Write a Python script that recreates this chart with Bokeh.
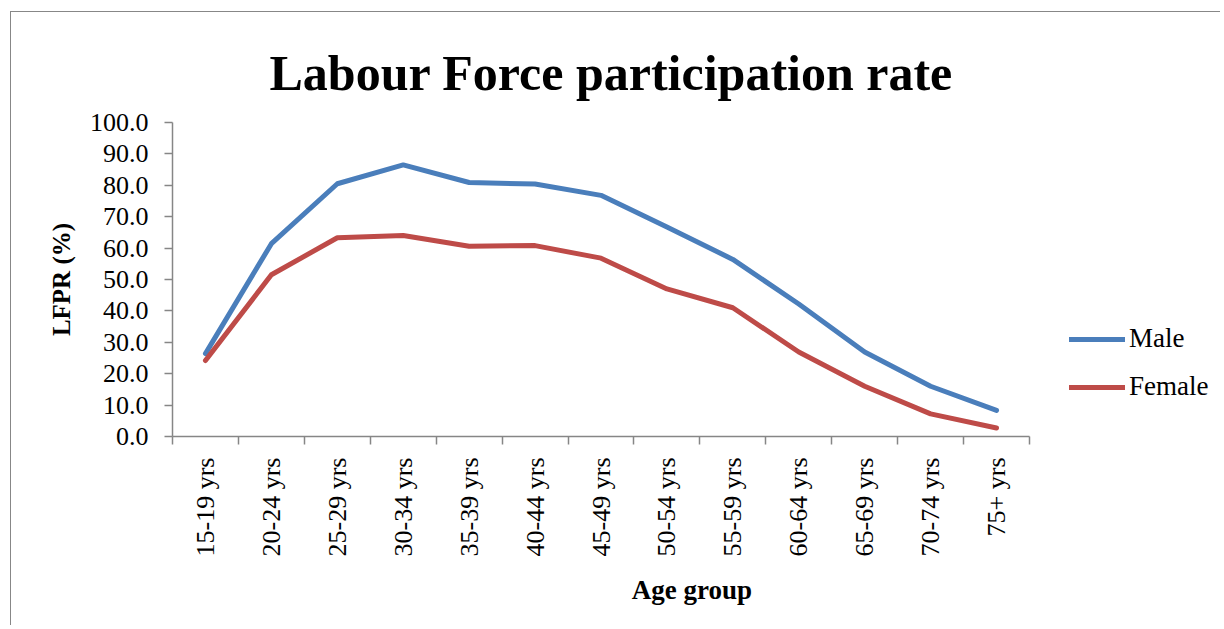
import math
from bokeh.plotting import figure
from bokeh.models import (Range1d, FixedTicker, NumeralTickFormatter, CustomJSTickFormatter,
                          Legend, LegendItem)
from bokeh.embed import file_html
from bokeh.resources import INLINE

categories = ["15-19 yrs", "20-24 yrs", "25-29 yrs", "30-34 yrs", "35-39 yrs", "40-44 yrs",
              "45-49 yrs", "50-54 yrs", "55-59 yrs", "60-64 yrs", "65-69 yrs", "70-74 yrs", "75+ yrs"]
male = [26.4, 61.4, 80.5, 86.5, 80.9, 80.4, 76.8, 66.7, 56.4, 42.2, 26.9, 16.0, 8.3]
female = [24.2, 51.5, 63.3, 64.0, 60.6, 60.8, 56.8, 47.0, 41.0, 26.9, 16.0, 7.2, 2.7]

FONT = "Liberation Serif"
AXIS_GRAY = "#868686"

n = len(categories)
xs = [i + 0.5 for i in range(n)]

W, H = 1210, 614
MB_LEFT, MB_RIGHT = 161, 10
frame_w = W - MB_LEFT - MB_RIGHT
axis_px = 857  # pixel length of the category axis
x_end = n * frame_w / axis_px

p = figure(width=W, height=H, output_backend="svg", toolbar_location=None,
           x_range=Range1d(0, x_end), y_range=Range1d(0, 100),
           min_border_left=MB_LEFT, min_border_right=MB_RIGHT, min_border_top=110, min_border_bottom=190,
           styles={"border-left": "1.5px solid #878787", "border-top": "1.5px solid #878787",
                   "margin-left": "10px", "margin-top": "11px"})

p.title.text = "Labour Force participation rate"
p.title.text_font = FONT
p.title.text_font_size = "50px"
p.title.text_font_style = "bold"
p.title.text_color = "black"
p.title.align = "left"
p.title.offset = 97
p.title.vertical_align = "top"
p.title.text_line_height = 1.2
p.title.standoff = 40

p.grid.visible = False
p.outline_line_color = None
p.background_fill_color = "white"
p.border_fill_color = "white"

# x axis
xa = p.xaxis[0]
xa.bounds = (0, n)
xa.ticker = FixedTicker(ticks=xs, minor_ticks=list(range(n + 1)))
xa.formatter = CustomJSTickFormatter(args=dict(labels=categories),
                                     code="return labels[Math.floor(tick)];")
xa.major_tick_out = 0
xa.major_tick_in = 0
xa.minor_tick_out = 8
xa.minor_tick_in = 0
xa.minor_tick_line_color = AXIS_GRAY
xa.minor_tick_line_width = 1.5
xa.axis_line_color = AXIS_GRAY
xa.axis_line_width = 1.5
xa.major_label_orientation = math.pi / 2
xa.major_label_text_font = FONT
xa.major_label_text_font_size = "26px"
xa.major_label_text_color = "black"
xa.major_label_standoff = 13
xa.axis_label = "Age group"
xa.axis_label_text_font = FONT
xa.axis_label_text_font_size = "27px"
xa.axis_label_text_font_style = "bold"
xa.axis_label_text_color = "black"
xa.axis_label_standoff = 16

# y axis
ya = p.yaxis[0]
ya.ticker = FixedTicker(ticks=list(range(0, 101, 10)))
ya.formatter = NumeralTickFormatter(format="0.0")
ya.major_tick_out = 8
ya.major_tick_in = 0
ya.major_tick_line_color = AXIS_GRAY
ya.major_tick_line_width = 1.5
ya.minor_tick_line_color = None
ya.axis_line_color = AXIS_GRAY
ya.axis_line_width = 1.5
ya.major_label_text_font = FONT
ya.major_label_text_font_size = "26px"
ya.major_label_text_color = "black"
ya.major_label_standoff = 16
ya.axis_label = "LFPR (%)"
ya.axis_label_text_font = FONT
ya.axis_label_text_font_size = "25px"
ya.axis_label_text_font_style = "bold"
ya.axis_label_text_color = "black"
ya.axis_label_standoff = 12

r_m = p.line(xs, male, line_color="#4A7EBB", line_width=5, line_join="round", line_cap="round")
r_f = p.line(xs, female, line_color="#BE4B48", line_width=5, line_join="round", line_cap="round")

legend = Legend(items=[LegendItem(label="Male", renderers=[r_m]),
                       LegendItem(label="Female", renderers=[r_f])],
                location=(897, 34), border_line_color=None, background_fill_alpha=0,
                label_text_font=FONT, label_text_font_size="27px", label_text_color="black",
                glyph_width=56, glyph_height=30, label_height=30, spacing=17,
                padding=0, margin=0, label_standoff=4)
p.add_layout(legend, "center")

open("out.html", "w").write(file_html(p, INLINE))
